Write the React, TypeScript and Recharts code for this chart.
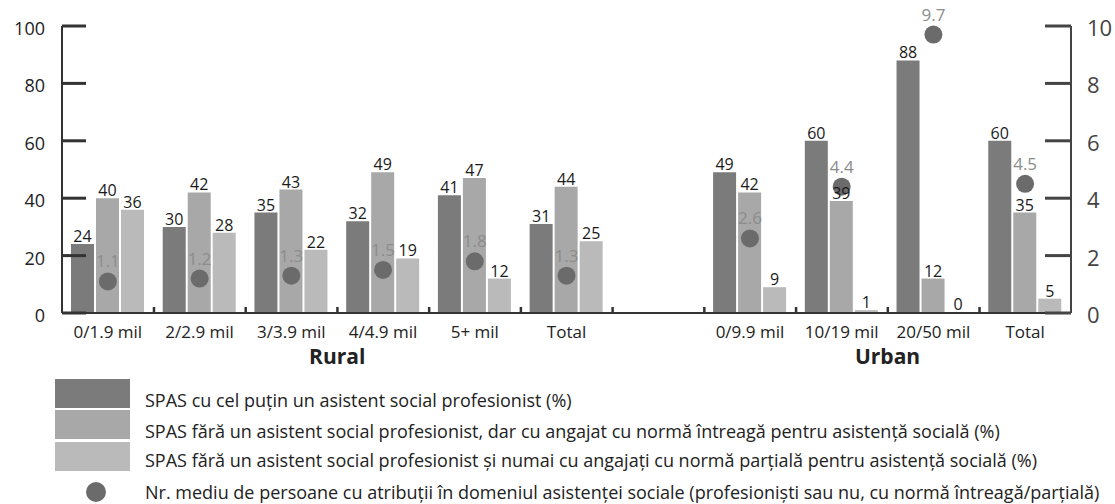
import React from 'react';
import { ComposedChart, Bar, Scatter, XAxis, YAxis, LabelList } from 'recharts';

const categories = ['0/1.9 mil', '2/2.9 mil', '3/3.9 mil', '4/4.9 mil', '5+ mil', 'Total', '', '0/9.9 mil', '10/19 mil', '20/50 mil', 'Total'];
const withProfessional = [24, 30, 35, 32, 41, 31, null, 49, 60, 88, 60];
const fullTimeNonProf = [40, 42, 43, 49, 47, 44, null, 42, 39, 12, 35];
const partTimeOnly = [36, 28, 22, 19, 12, 25, null, 9, 1, 0, 5];
const avgPersons = [1.1, 1.2, 1.3, 1.5, 1.8, 1.3, null, 2.6, 4.4, 9.7, 4.5];
const groupLabels = [
  { label: 'Rural', first: 0, last: 5 },
  { label: 'Urban', first: 7, last: 10 },
];
const leftTicks = [0, 20, 40, 60, 80, 100];
const rightTicks = [0, 2, 4, 6, 8, 10];
const legendLabels = [
  'SPAS cu cel puțin un asistent social profesionist (%)',
  'SPAS fără un asistent social profesionist, dar cu angajat cu normă întreagă pentru asistență socială (%)',
  'SPAS fără un asistent social profesionist și numai cu angajați cu normă parțială pentru asistență socială (%)',
  'Nr. mediu de persoane cu atribuții în domeniul asistenței sociale (profesioniști sau nu, cu normă întreagă/parțială)',
];

const COLORS = ['#7b7b7b', '#a8a8a8', '#bababa'];
const DOT_COLOR = '#6b6b6b';
const FONT = '"Open Sans", "DejaVu Sans", sans-serif';

const W = 1115;
const H = 504;
const LEFT_W = 62;
const RIGHT_W = 44;
const TOP = 26;
const PLOT_BOTTOM = 313;
const BAND = (W - LEFT_W - RIGHT_W) / categories.length;

const data = categories.map((cat, i) => ({
  cat,
  a: withProfessional[i],
  b: fullTimeNonProf[i],
  c: partTimeOnly[i],
  dots: avgPersons[i],
}));

const XTick = (props: any) => {
  const x = Number(props.x);
  const y = Number(props.y);
  const idx = Number(props.index);
  const value = props.payload ? props.payload.value : '';
  const groups = groupLabels
    .map((g) => {
      const mid = (g.first + g.last) / 2;
      const at = Math.ceil(mid);
      return at === idx ? { label: g.label, gx: x - (at - mid) * BAND } : null;
    })
    .filter(Boolean) as { label: string; gx: number }[];
  return (
    <g>
      {idx > 0 && <rect x={x - BAND / 2 - 1} y={y - 6} width={2.5} height={6} fill="#333" />}
      <text x={x} y={y + 25} textAnchor="middle" fontFamily={FONT} fontSize={17} fill="#222">
        {value}
      </text>
      {groups.map((g) => (
        <text key={g.label} x={g.gx} y={y + 51} textAnchor="middle" fontFamily={FONT} fontSize={21} fontWeight="bold" fill="#222">
          {g.label}
        </text>
      ))}
    </g>
  );
};

const LeftTick = (props: any) => {
  const x = Number(props.x);
  const y = Number(props.y);
  return (
    <g>
      <rect x={x} y={y - 1.5} width={24} height={3} fill="#333" />
      <text x={x - 17} y={y + 9} textAnchor="end" fontFamily={FONT} fontSize={18} fill="#222">
        {props.payload?.value}
      </text>
    </g>
  );
};

const RightTick = (props: any) => {
  const x = Number(props.x);
  const y = Number(props.y);
  return (
    <g>
      <rect x={x - 26} y={y - 1.5} width={26} height={3} fill="#444" />
      <text x={x + 16} y={y + 10} textAnchor="start" fontFamily={FONT} fontSize={22} fill="#444">
        {props.payload?.value}
      </text>
    </g>
  );
};

const DotShape = (props: any) => {
  const { cx, cy, payload } = props;
  if (payload == null || payload.dots == null || !isFinite(cx) || !isFinite(cy)) return <g />;
  return (
    <g>
      <circle cx={cx} cy={cy} r={9} fill={DOT_COLOR} />
      <text x={cx} y={cy - 14} textAnchor="middle" fontFamily={FONT} fontSize={17} fill="#8c8c8c">
        {payload.dots}
      </text>
    </g>
  );
};

const barLabelProps = {
  position: 'top' as const,
  offset: 2,
  fontFamily: FONT,
  fontSize: 16,
  fill: '#1a1a1a',
};

const legendRows = [
  { top: 379, h: 29, textY: 400 },
  { top: 410, h: 29, textY: 431 },
  { top: 442, h: 29, textY: 460 },
  { top: 483, h: 20, textY: 492 },
];

export default function App() {
  return (
    <div style={{ position: 'absolute', left: 0, top: 0, width: W, height: H, background: '#fff', overflow: 'hidden' }}>
      <ComposedChart
        width={W}
        height={H}
        data={data}
        margin={{ top: TOP, right: 0, bottom: H - PLOT_BOTTOM - 60, left: 0 }}
        barCategoryGap={9}
        barGap={2}
      >
        <XAxis
          dataKey="cat"
          interval={0}
          height={60}
          tickSize={0}
          tickMargin={0}
          axisLine={{ stroke: '#333', strokeWidth: 2 }}
          tick={<XTick />}
        />
        <YAxis
          yAxisId="left"
          orientation="left"
          width={LEFT_W}
          domain={[0, 100]}
          ticks={leftTicks}
          tickSize={0}
          tickMargin={0}
          axisLine={{ stroke: '#333', strokeWidth: 2 }}
          tick={<LeftTick />}
        />
        <YAxis
          yAxisId="right"
          orientation="right"
          width={RIGHT_W}
          domain={[0, 10]}
          ticks={rightTicks}
          tickSize={0}
          tickMargin={0}
          axisLine={{ stroke: '#444', strokeWidth: 2 }}
          tick={<RightTick />}
        />
        <Bar yAxisId="left" dataKey="a" fill={COLORS[0]} isAnimationActive={false}>
          <LabelList dataKey="a" {...barLabelProps} />
        </Bar>
        <Bar yAxisId="left" dataKey="b" fill={COLORS[1]} isAnimationActive={false}>
          <LabelList dataKey="b" {...barLabelProps} />
        </Bar>
        <Bar
          yAxisId="left"
          dataKey="c"
          fill={COLORS[2]}
          minPointSize={(v: any) => (v === 0 ? 1 : 0)}
          isAnimationActive={false}
        >
          <LabelList dataKey="c" {...barLabelProps} />
        </Bar>
        <Scatter yAxisId="right" dataKey="dots" fill={DOT_COLOR} shape={<DotShape />} isAnimationActive={false} />
      </ComposedChart>
      {legendLabels.map((label, i) => {
        const row = legendRows[i];
        return (
          <React.Fragment key={i}>
            {i < 3 ? (
              <div style={{ position: 'absolute', left: 55, top: row.top, width: 75, height: row.h, background: COLORS[i] }} />
            ) : (
              <div style={{ position: 'absolute', left: 86, top: row.textY - 10, width: 20, height: 20, borderRadius: 10, background: DOT_COLOR }} />
            )}
            <div
              style={{
                position: 'absolute',
                left: 145,
                top: row.textY - 12,
                height: 24,
                lineHeight: '24px',
                fontFamily: FONT,
                fontSize: 18,
                color: '#222',
                whiteSpace: 'nowrap',
              }}
            >
              {label}
            </div>
          </React.Fragment>
        );
      })}
    </div>
  );
}
